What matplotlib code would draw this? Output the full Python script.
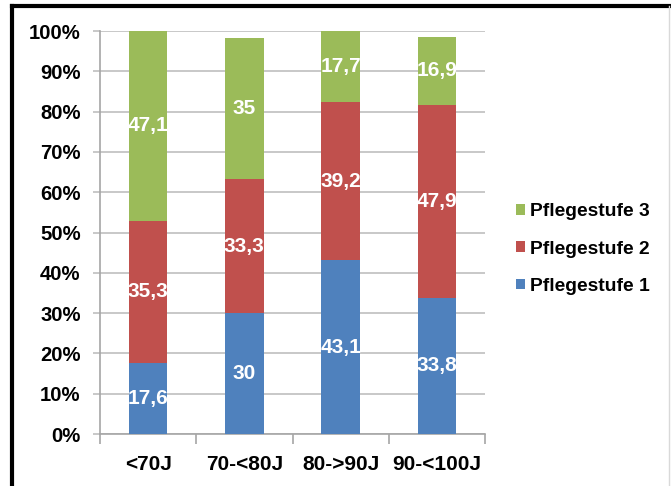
import matplotlib
matplotlib.use("Agg")
import matplotlib.pyplot as plt
from matplotlib.lines import Line2D
from matplotlib.patches import Patch

categories = ["<70J", "70-<80J", "80->90J", "90-<100J"]
stufe1 = [17.6, 30, 43.1, 33.8]
stufe2 = [35.3, 33.3, 39.2, 47.9]
stufe3 = [47.1, 35, 17.7, 16.9]
series_names = ["Pflegestufe 1", "Pflegestufe 2", "Pflegestufe 3"]
colors = ["#4F81BD", "#C0504D", "#9BBB59"]
yticks = [0, 10, 20, 30, 40, 50, 60, 70, 80, 90, 100]

plt.rcParams['font.family'] = ['Liberation Sans', 'DejaVu Sans']

fig = plt.figure(figsize=(6.71, 4.86), dpi=100)
ax = fig.add_axes([100/671, 1 - 434/486, 385/671, 403/486])

x = range(len(categories))
bottoms = [0] * len(categories)
for vals, col in zip([stufe1, stufe2, stufe3], colors):
    bars = ax.bar(x, vals, bottom=bottoms, width=0.4, color=col, zorder=3)
    for i, v in enumerate(vals):
        t = ax.text(i, bottoms[i] + v / 2, f"{v:g}".replace(".", ","), ha="center", va="center",
                    color="white", fontsize=15, fontweight="bold", zorder=4)
        t.set_clip_path(bars[i])
    bottoms = [b + v for b, v in zip(bottoms, vals)]

ax.set_xlim(-0.5, len(categories) - 0.5)
ax.set_ylim(0, 100)
ax.set_yticks(yticks)
ax.set_yticklabels([f"{t}%" for t in yticks], fontsize=14.6, fontweight="bold")
ax.yaxis.grid(True, color="#BFBFBF", linewidth=1.2, zorder=0)
ax.set_axisbelow(True)
ax.tick_params(axis="y", length=5, color="#BFBFBF", width=1.2, pad=9)
ax.set_xticks([i for i in x])
ax.set_xticklabels(categories, fontsize=15, fontweight="bold")
ax.set_xticks([i - 0.5 for i in range(len(categories) + 1)], minor=True)
ax.tick_params(axis="x", which="major", length=0, pad=15)
ax.tick_params(axis="x", which="minor", length=7, color="#A6A6A6", width=1.2)
for s in ["top", "right"]:
    ax.spines[s].set_visible(False)
ax.spines["left"].set_color("#A6A6A6")
ax.spines["bottom"].set_color("#A6A6A6")
ax.spines["left"].set_linewidth(1.2)
ax.spines["bottom"].set_linewidth(1.2)

handles = [Patch(facecolor=c, edgecolor="none") for c in colors][::-1]
leg = fig.legend(handles, series_names[::-1], loc="center left", bbox_to_anchor=(499/671, 1 - 249/486),
                 frameon=False, prop={"size": 13.9, "weight": "bold"}, handlelength=0.45, handleheight=0.45,
                 handletextpad=0.25, labelspacing=1.05)

# frame lines (top and left)
fig.add_artist(Line2D([12/671, 1], [1 - 6/486, 1 - 6/486], color="black", linewidth=3, transform=fig.transFigure))
fig.add_artist(Line2D([12/671, 12/671], [0, 1 - 6/486], color="black", linewidth=3, transform=fig.transFigure))
fig.add_artist(Line2D([669/671, 669/671], [0, 1 - 6/486], color="#D9D9D9", linewidth=1, transform=fig.transFigure))

fig.savefig("out.png", dpi=100)
